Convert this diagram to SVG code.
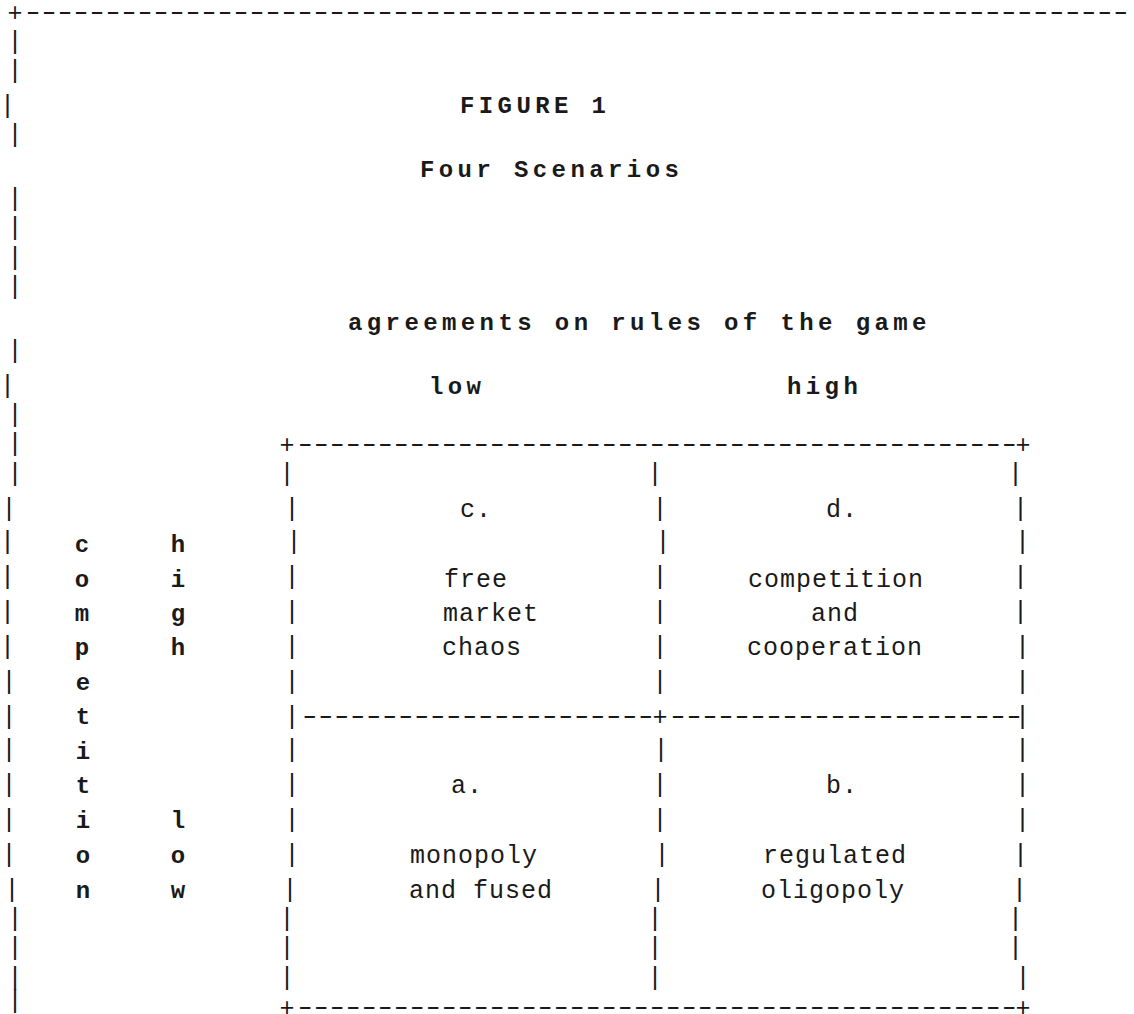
<svg xmlns="http://www.w3.org/2000/svg" width="1134" height="1014" viewBox="0 0 1134 1014">
<style>
text{font-family:"Liberation Mono","DejaVu Sans Mono",monospace;fill:#1a1a1a}
.v{font-size:25px;text-anchor:middle}
.r{font-size:25px;letter-spacing:1px}
.dash{font-size:25px;letter-spacing:-4.333px}
.h{font-size:24px;font-weight:bold;letter-spacing:4.4px}
.b{font-size:24px;font-weight:bold;text-anchor:middle}
</style>
<rect width="1134" height="1014" fill="#ffffff"/>
<g id="frame">
<text class="v" x="15" y="21">+</text>
<text class="dash" transform="scale(1.5,1)" x="14.5" y="20">---------------------------------------------------------------------</text>
<text class="v"><tspan x="15" y="49">|</tspan><tspan x="15" y="78">|</tspan><tspan x="7.5" y="113">|</tspan><tspan x="15" y="142">|</tspan><tspan x="15" y="206">|</tspan><tspan x="15" y="235">|</tspan><tspan x="15" y="265">|</tspan><tspan x="15" y="294">|</tspan><tspan x="15" y="358">|</tspan><tspan x="7.5" y="393">|</tspan><tspan x="15" y="422">|</tspan><tspan x="15" y="451">|</tspan><tspan x="15" y="481">|</tspan><tspan x="9" y="516">|</tspan><tspan x="7.5" y="549">|</tspan><tspan x="7.5" y="584">|</tspan><tspan x="7.5" y="619">|</tspan><tspan x="7.5" y="654">|</tspan><tspan x="9" y="689">|</tspan><tspan x="9" y="724">|</tspan><tspan x="9" y="757">|</tspan><tspan x="9" y="792">|</tspan><tspan x="9" y="827">|</tspan><tspan x="9" y="862">|</tspan><tspan x="12" y="897">|</tspan><tspan x="15" y="926">|</tspan><tspan x="15" y="955">|</tspan><tspan x="15" y="985">|</tspan><tspan x="15" y="1008">|</tspan></text>
</g>
<g id="title">
<text class="h" x="460" y="113">FIGURE 1</text>
<text class="h" x="420" y="177">Four Scenarios</text>
</g>
<g id="axis-x">
<text class="h" x="348" y="330">agreements on rules of the game</text>
<text class="h" x="429" y="394">low</text>
<text class="h" x="787" y="394">high</text>
</g>
<g id="axis-y">
<text class="b"><tspan x="82" y="552">c</tspan><tspan x="82" y="587">o</tspan><tspan x="82" y="621">m</tspan><tspan x="82" y="655">p</tspan><tspan x="83" y="690">e</tspan><tspan x="83" y="724">t</tspan><tspan x="83" y="759">i</tspan><tspan x="83" y="793">t</tspan><tspan x="83" y="828">i</tspan><tspan x="83" y="863">o</tspan><tspan x="83" y="898">n</tspan></text>
<text class="b"><tspan x="178" y="552">h</tspan><tspan x="178" y="587">i</tspan><tspan x="178" y="621">g</tspan><tspan x="178" y="655">h</tspan><tspan x="178" y="828">l</tspan><tspan x="178" y="863">o</tspan><tspan x="178" y="898">w</tspan></text>
</g>
<g id="grid">
<text class="v"><tspan x="287" y="453">+</tspan><tspan x="1023" y="453">+</tspan><tspan x="660" y="725">+</tspan><tspan x="287" y="1016">+</tspan><tspan x="1023" y="1016">+</tspan></text>
<text class="dash" transform="scale(1.5,1)" x="196" y="452">---------------------------------------------</text>
<text class="dash" transform="scale(1.5,1)" x="199" y="724">----------------------</text>
<text class="dash" transform="scale(1.5,1)" x="444.5" y="724">----------------------</text>
<text class="dash" transform="scale(1.5,1)" x="196" y="1015">---------------------------------------------</text>
<text class="v"><tspan x="287" y="481">|</tspan><tspan x="655" y="481">|</tspan><tspan x="1023" y="481">|</tspan>
<tspan x="292" y="516">|</tspan><tspan x="660" y="516">|</tspan><tspan x="1028" y="516">|</tspan>
<tspan x="294" y="549">|</tspan><tspan x="663" y="549">|</tspan><tspan x="1030" y="549">|</tspan>
<tspan x="292" y="584">|</tspan><tspan x="660" y="584">|</tspan><tspan x="1028" y="584">|</tspan>
<tspan x="292" y="619">|</tspan><tspan x="660" y="619">|</tspan><tspan x="1028" y="619">|</tspan>
<tspan x="292" y="654">|</tspan><tspan x="660" y="654">|</tspan><tspan x="1030" y="654">|</tspan>
<tspan x="292" y="689">|</tspan><tspan x="660" y="689">|</tspan><tspan x="1030" y="689">|</tspan>
<tspan x="292" y="724">|</tspan><tspan x="1030" y="724">|</tspan>
<tspan x="292" y="757">|</tspan><tspan x="661" y="757">|</tspan><tspan x="1030" y="757">|</tspan>
<tspan x="292" y="792">|</tspan><tspan x="660" y="792">|</tspan><tspan x="1030" y="792">|</tspan>
<tspan x="292" y="827">|</tspan><tspan x="660" y="827">|</tspan><tspan x="1030" y="827">|</tspan>
<tspan x="292" y="862">|</tspan><tspan x="662" y="862">|</tspan><tspan x="1028" y="862">|</tspan>
<tspan x="290" y="897">|</tspan><tspan x="658" y="897">|</tspan><tspan x="1027" y="897">|</tspan>
<tspan x="287" y="926">|</tspan><tspan x="655" y="926">|</tspan><tspan x="1023" y="926">|</tspan>
<tspan x="287" y="955">|</tspan><tspan x="655" y="955">|</tspan><tspan x="1023" y="955">|</tspan>
<tspan x="287" y="985">|</tspan><tspan x="655" y="985">|</tspan><tspan x="1023" y="985">|</tspan></text>
</g>
<g id="cell-c">
<text class="r" x="460" y="517">c.</text>
<text class="r" x="444" y="587">free</text>
<text class="r" x="443" y="621">market</text>
<text class="r" x="442" y="655">chaos</text>
</g>
<g id="cell-d">
<text class="r" x="826" y="517">d.</text>
<text class="r" x="748" y="587">competition</text>
<text class="r" x="811" y="621">and</text>
<text class="r" x="747" y="655">cooperation</text>
</g>
<g id="cell-a">
<text class="r" x="451" y="793">a.</text>
<text class="r" x="410" y="863">monopoly</text>
<text class="r" x="409" y="898">and fused</text>
</g>
<g id="cell-b">
<text class="r" x="826" y="793">b.</text>
<text class="r" x="763" y="863">regulated</text>
<text class="r" x="761" y="898">oligopoly</text>
</g>
</svg>
